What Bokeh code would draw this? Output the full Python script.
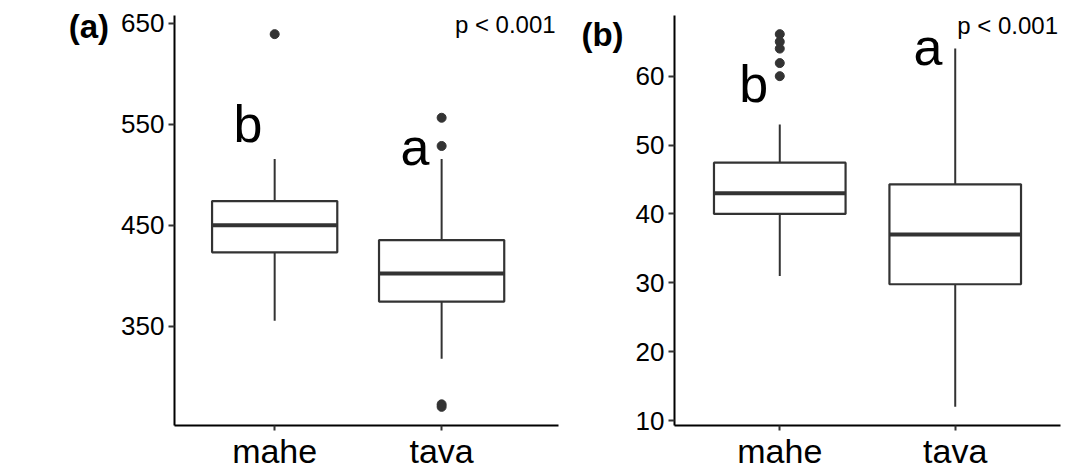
from bokeh.plotting import figure
from bokeh.layouts import row
from bokeh.models import FixedTicker
from bokeh.core.properties import value
from bokeh.embed import file_html
from bokeh.resources import INLINE

categories = ["mahe", "tava"]

# ---- panel (a) ----
a_lower = [355.5, 318.0]
a_q1 = [423.2, 374.5]
a_median = [450.0, 402.3]
a_q3 = [473.9, 435.3]
a_upper = [515.4, 515.4]
a_outlier_cat = ["mahe", "tava", "tava", "tava", "tava"]
a_outlier_val = [639.0, 556.3, 528.4, 272.9, 270.4]
a_ticks = [350, 450, 550, 650]
a_letters = ["b", "a"]

# ---- panel (b) ----
b_lower = [31.0, 12.0]
b_q1 = [40.0, 29.8]
b_median = [43.0, 37.0]
b_q3 = [47.45, 44.3]
b_upper = [53.0, 64.0]
b_outlier_cat = ["mahe", "mahe", "mahe", "mahe", "mahe"]
b_outlier_val = [66.1, 65.0, 64.0, 61.9, 60.0]
b_ticks = [10, 20, 30, 40, 50, 60]
b_letters = ["b", "a"]

p_label = "p < 0.001"

FONT = "Liberation Sans"
EDGE = "#333333"


def make_panel(tag, lower, q1, med, q3, upper, out_cat, out_val, ticks, letters,
               letter_xy, p_xy, width, border_left, border_right, x_end, tag_lh):
    xs = [categories.index(c) + 1 for c in categories]
    allv = lower + upper + out_val
    lo, hi = min(allv), max(allv)
    rng = hi - lo
    p = figure(width=width, height=472, x_range=(0.4, x_end),
               y_range=(lo - 0.05 * rng, hi + 0.05 * rng),
               output_backend="svg", toolbar_location=None,
               min_border_left=border_left, min_border_right=border_right,
               min_border_top=15, min_border_bottom=44)
    p.outline_line_color = None
    p.xgrid.visible = False
    p.ygrid.visible = False
    p.background_fill_color = "white"
    p.border_fill_color = "white"

    # whiskers
    p.segment(x0=xs, y0=q3, x1=xs, y1=upper, line_color=EDGE, line_width=2)
    p.segment(x0=xs, y0=lower, x1=xs, y1=q1, line_color=EDGE, line_width=2)
    # boxes
    p.vbar(x=xs, width=0.75, bottom=q1, top=q3, fill_color="white",
           line_color=EDGE, line_width=2.2)
    # medians
    p.segment(x0=[x - 0.375 for x in xs], y0=med, x1=[x + 0.375 for x in xs], y1=med,
              line_color=EDGE, line_width=4)
    # outliers
    ox = [categories.index(c) + 1 for c in out_cat]
    p.scatter(x=ox, y=out_val, size=9, color=EDGE)

    # significance letters
    p.text(x=[xy[0] for xy in letter_xy], y=[xy[1] for xy in letter_xy], text=letters,
           text_font=value(FONT), text_font_size="52px", text_align="center",
           text_baseline="alphabetic", text_color="black")
    # p value
    p.text(x=[p_xy[0]], y=[p_xy[1]], text=[p_label], text_font=value(FONT),
           text_font_size="24px", text_align="right", text_baseline="alphabetic",
           text_color="black")

    # axes
    p.yaxis.ticker = FixedTicker(ticks=ticks)
    p.xaxis.ticker = FixedTicker(ticks=xs)
    p.xaxis.major_label_overrides = {x: c for x, c in zip(xs, categories)}
    for ax in (p.xaxis[0], p.yaxis[0]):
        ax.axis_line_color = "black"
        ax.axis_line_width = 2
        ax.major_tick_line_color = EDGE
        ax.major_tick_line_width = 2
        ax.major_tick_in = 0
        ax.minor_tick_line_color = None
        ax.major_label_text_font = FONT
        ax.major_label_text_color = "black"
    p.yaxis.major_tick_out = 6
    p.yaxis.major_label_standoff = 4
    p.yaxis.major_label_text_font_size = "26px"
    # panel tag as the y axis label, placed at the top end
    p.yaxis.axis_label = "\n" + tag
    p.yaxis.axis_label_orientation = "horizontal"
    p.yaxis.axis_label_align = "end"
    p.yaxis.axis_label_standoff = 9
    p.yaxis.axis_label_text_font = FONT
    p.yaxis.axis_label_text_font_style = "bold"
    p.yaxis.axis_label_text_font_size = "33px"
    p.yaxis.axis_label_text_line_height = tag_lh
    p.yaxis.axis_label_text_color = "black"
    p.xaxis.major_tick_out = 5
    p.xaxis.major_label_standoff = 1
    p.xaxis.major_label_text_font_size = "34px"
    return p


pa = make_panel("(a)", a_lower, a_q1, a_median, a_q3, a_upper, a_outlier_cat, a_outlier_val,
                a_ticks, a_letters, letter_xy=[(0.84, 550.6), (1.84, 527.0)],
                p_xy=(2.683, 648.5),
                width=560, border_left=174, border_right=2, x_end=2.7, tag_lh=0.6)
pb = make_panel("(b)", b_lower, b_q1, b_median, b_q3, b_upper, b_outlier_cat, b_outlier_val,
                b_ticks, b_letters, letter_xy=[(0.852, 58.9), (1.845, 64.2)],
                p_xy=(2.586, 67.4),
                width=514, border_left=114, border_right=14, x_end=2.6, tag_lh=1.03)

layout = row(pa, pb, spacing=0)
open("out.html", "w").write(file_html(layout, INLINE))
